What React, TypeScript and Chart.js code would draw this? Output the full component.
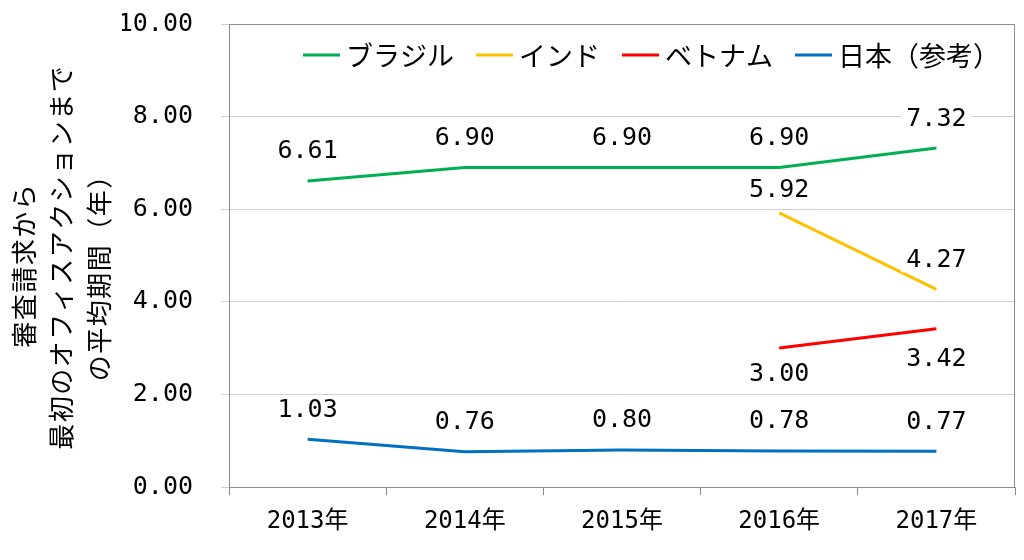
import React, { useEffect, useRef } from 'react';
import { Chart, registerables } from 'chart.js';

Chart.register(...registerables);

// ---- data ----
const categories = ['2013年', '2014年', '2015年', '2016年', '2017年'];
const seriesNames = ['ブラジル', 'インド', 'ベトナム', '日本（参考）'];
const brazil = [6.61, 6.9, 6.9, 6.9, 7.32];
const india = [null, null, null, 5.92, 4.27];
const vietnam = [null, null, null, 3.0, 3.42];
const japan = [1.03, 0.76, 0.8, 0.78, 0.77];
const yTitle = ['審査請求から', '最初のオフィスアクションまで', 'の平均期間（年）'];
const yMin = 0;
const yMax = 10;
const yStep = 2;

// ---- styles ----
const colors = ['#00B050', '#FFC000', '#FF0000', '#0070C0'];
const labelSide = ['above', 'above', 'below', 'above'];
const labelOffsetDefault = 30;
const labelOffsetOverride: Record<string, number> = { '1-3': 23, '2-3': 25 };
const NUM_FONT = '"DejaVu Sans Mono", "Noto Sans CJK JP"';
const JP_FONT = '"Noto Sans CJK JP"';
// y-axis title layout (canvas coords): x centre, y centre of each line
const titleX = [16, 53, 91];
const titleY = [258, 250, 264];
const titleSpacing = 1.5;

const framePlugin = {
  id: 'frame',
  beforeDatasetsDraw(chart: any) {
    const { ctx, chartArea } = chart;
    ctx.save();
    ctx.strokeStyle = '#8c8c8c';
    ctx.lineWidth = 1;
    ctx.beginPath();
    ctx.moveTo(chartArea.left, Math.round(chartArea.top) + 0.5);
    ctx.lineTo(chartArea.right, Math.round(chartArea.top) + 0.5);
    ctx.moveTo(Math.round(chartArea.right) - 0.5, chartArea.top);
    ctx.lineTo(Math.round(chartArea.right) - 0.5, chartArea.bottom);
    ctx.stroke();
    ctx.restore();
  },
};

const labelPlugin = {
  id: 'valueLabels',
  afterDatasetsDraw(chart: any) {
    const ctx = chart.ctx;
    ctx.save();
    ctx.font = `25px ${NUM_FONT}`;
    ctx.textAlign = 'center';
    ctx.textBaseline = 'middle';
    chart.data.datasets.forEach((ds: any, di: number) => {
      const meta = chart.getDatasetMeta(di);
      meta.data.forEach((pt: any, i: number) => {
        const v = ds.data[i];
        if (v == null) return;
        const off = labelOffsetOverride[`${di}-${i}`] ?? labelOffsetDefault;
        const y = pt.y + (labelSide[di] === 'above' ? -off : off);
        const text = Number(v).toFixed(2);
        const w = ctx.measureText(text).width;
        ctx.fillStyle = '#ffffff';
        ctx.fillRect(pt.x - w / 2 - 5, y - 13, w + 10, 26);
        ctx.fillStyle = '#000000';
        ctx.fillText(text, pt.x, y + 1);
      });
    });
    ctx.restore();
  },
};

const legendPlugin = {
  id: 'customLegend',
  afterDraw(chart: any) {
    const { ctx, chartArea } = chart;
    ctx.save();
    ctx.font = `27px ${JP_FONT}`;
    ctx.textBaseline = 'middle';
    ctx.textAlign = 'left';
    const lineW = 37;
    const gap = 6;
    const spacing = 22;
    const widths = seriesNames.map((n) => ctx.measureText(n).width);
    const total = widths.reduce((a, w) => a + lineW + gap + w, 0) + spacing * (seriesNames.length - 1);
    let x = chartArea.right - 15 - total;
    const y = chartArea.top + 31;
    seriesNames.forEach((n, i) => {
      ctx.strokeStyle = colors[i];
      ctx.lineWidth = 3;
      ctx.beginPath();
      ctx.moveTo(x, y);
      ctx.lineTo(x + lineW, y);
      ctx.stroke();
      x += lineW + gap;
      ctx.fillStyle = '#000';
      ctx.fillText(n, x, y + 1);
      x += widths[i] + spacing;
    });
    ctx.restore();
  },
};

const axisTitlePlugin = {
  id: 'axisTitle',
  afterDraw(chart: any) {
    const ctx = chart.ctx;
    ctx.save();
    ctx.font = `26px ${JP_FONT}`;
    ctx.fillStyle = '#000';
    ctx.textAlign = 'center';
    ctx.textBaseline = 'middle';
    yTitle.forEach((line, i) => {
      ctx.save();
      ctx.translate(titleX[i], titleY[i]);
      ctx.rotate(-Math.PI / 2);
      (ctx as any).letterSpacing = `${titleSpacing}px`;
      ctx.fillText(line, titleSpacing / 2, 0);
      ctx.restore();
    });
    ctx.restore();
  },
};

export default function App() {
  const ref = useRef<HTMLCanvasElement | null>(null);

  useEffect(() => {
    if (!ref.current) return;
    const data = [brazil, india, vietnam, japan];
    const chart = new Chart(ref.current, {
      type: 'line',
      data: {
        labels: categories,
        datasets: seriesNames.map((name, i) => ({
          label: name,
          data: data[i] as any,
          borderColor: colors[i],
          backgroundColor: colors[i],
          borderWidth: 3,
          pointRadius: 0,
          tension: 0,
          spanGaps: false,
        })),
      },
      options: {
        animation: false,
        responsive: true,
        maintainAspectRatio: false,
        layout: { padding: { top: 16, bottom: 15, right: 1, left: 114 } },
        plugins: {
          legend: { display: false },
          tooltip: { enabled: false },
          title: { display: false },
        },
        scales: {
          x: {
            offset: true,
            grid: {
              display: true,
              drawOnChartArea: false,
              drawTicks: true,
              tickLength: 8,
              color: '#8c8c8c',
              offset: true,
            },
            border: { display: true, color: '#8c8c8c' },
            ticks: {
              color: '#000',
              font: { family: NUM_FONT, size: 24 },
              padding: 12,
              maxRotation: 0,
            },
            afterFit: (s: any) => {
              s.height = 50;
              s.paddingLeft = 0;
              s.paddingRight = 0;
            },
          },
          y: {
            min: yMin,
            max: yMax,
            grid: { color: '#d0d0d0', tickLength: 8, drawTicks: true },
            border: { display: true, color: '#8c8c8c' },
            ticks: {
              stepSize: yStep,
              color: '#000',
              font: { family: NUM_FONT, size: 25 },
              padding: 28,
              callback: (v: any) => Number(v).toFixed(2),
            },
            afterFit: (s: any) => {
              s.width = 107;
              s.paddingTop = 0;
              s.paddingBottom = 0;
            },
          },
        },
      },
      plugins: [framePlugin, labelPlugin, legendPlugin, axisTitlePlugin],
    });
    return () => chart.destroy();
  }, []);

  return (
    <div style={{ position: 'relative', width: '1008px', height: '544px' }}>
      <canvas ref={ref} />
    </div>
  );
}
